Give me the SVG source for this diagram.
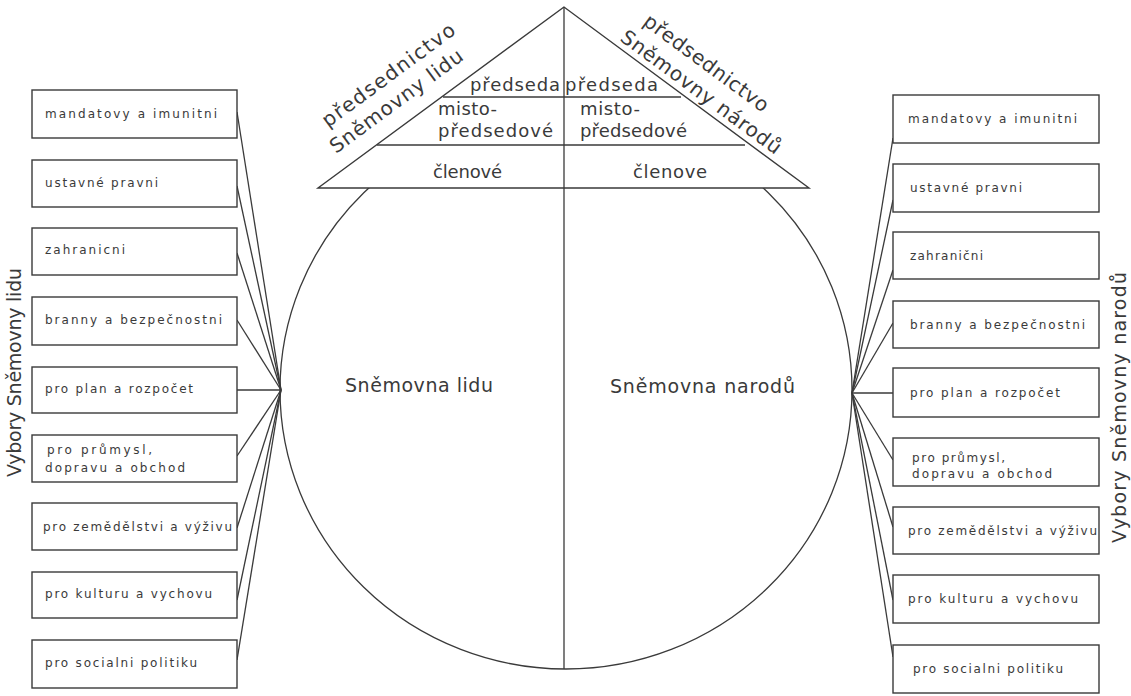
<svg xmlns="http://www.w3.org/2000/svg" width="1131" height="696" viewBox="0 0 1131 696">
<style>
.ln{stroke:#3a3a3a;stroke-width:1.3;fill:none}
.box{stroke:#3a3a3a;stroke-width:1.4;fill:#fff}
.t{font-family:"DejaVu Sans",sans-serif;fill:#3a3a3a}
.bt{font-size:12px}
.tri{font-size:18px}
.big{font-size:20px}
.mid{font-size:19px}
</style>
<rect width="1131" height="696" fill="#fff"/>
<g id="chamber">
<ellipse cx="566" cy="390" rx="286" ry="279" class="ln"/>
<text class="t mid" x="345" y="392" textLength="148" lengthAdjust="spacing">Sněmovna lidu</text>
<text class="t mid" x="610" y="393" textLength="185" lengthAdjust="spacing">Sněmovna narodů</text>
</g>
<g id="presidium">
<polygon points="564,7 318,188 809,188" class="box"/>
<line x1="443" y1="97" x2="681" y2="97" class="ln"/>
<line x1="377" y1="145" x2="745" y2="145" class="ln"/>
<text class="t tri" x="470" y="91" textLength="90" lengthAdjust="spacing">předseda</text>
<text class="t tri" x="565" y="91" textLength="93" lengthAdjust="spacing">předseda</text>
<text class="t tri" x="438" y="115" textLength="59" lengthAdjust="spacing">misto-</text>
<text class="t tri" x="438" y="137" textLength="115" lengthAdjust="spacing">předsedové</text>
<text class="t tri" x="580" y="115" textLength="60" lengthAdjust="spacing">misto-</text>
<text class="t tri" x="580" y="137" textLength="107" lengthAdjust="spacing">předsedové</text>
<text class="t tri" x="433" y="178" textLength="69" lengthAdjust="spacing">členové</text>
<text class="t tri" x="633" y="178" textLength="74" lengthAdjust="spacing">členove</text>
<text class="t big" transform="translate(328,128) rotate(-36.4)" textLength="160" lengthAdjust="spacing">předsednictvo</text>
<text class="t big" transform="translate(336,154) rotate(-36.4)" textLength="160" lengthAdjust="spacing">Sněmovny lidu</text>
<text class="t big" transform="translate(642,24) rotate(36.4)" textLength="150" lengthAdjust="spacing">předsednictvo</text>
<text class="t big" transform="translate(619,40) rotate(36.4)" textLength="194" lengthAdjust="spacing">Sněmovny národů</text>
</g>
<g id="connectors">
<line x1="564" y1="7" x2="564" y2="669" class="ln"/>
<line x1="237" y1="112" x2="281" y2="390" class="ln"/>
<line x1="237" y1="186" x2="281" y2="390" class="ln"/>
<line x1="237" y1="253" x2="281" y2="390" class="ln"/>
<line x1="237" y1="320" x2="281" y2="390" class="ln"/>
<line x1="237" y1="390" x2="281" y2="390" class="ln"/>
<line x1="237" y1="456" x2="281" y2="390" class="ln"/>
<line x1="237" y1="528" x2="281" y2="390" class="ln"/>
<line x1="237" y1="600" x2="281" y2="390" class="ln"/>
<line x1="237" y1="660" x2="281" y2="390" class="ln"/>
<line x1="893" y1="138" x2="852" y2="393" class="ln"/>
<line x1="893" y1="200" x2="852" y2="393" class="ln"/>
<line x1="893" y1="270" x2="852" y2="393" class="ln"/>
<line x1="893" y1="323" x2="852" y2="393" class="ln"/>
<line x1="893" y1="393" x2="852" y2="393" class="ln"/>
<line x1="893" y1="460" x2="852" y2="393" class="ln"/>
<line x1="893" y1="527" x2="852" y2="393" class="ln"/>
<line x1="893" y1="600" x2="852" y2="393" class="ln"/>
<line x1="893" y1="657" x2="852" y2="393" class="ln"/>
</g>
<g id="left-committees">
<g id="l1"><rect x="32" y="90" width="205" height="48" class="box"/><text class="t bt" x="45" y="118" textLength="172" lengthAdjust="spacing">mandatovy a imunitni</text></g>
<g id="l2"><rect x="32" y="160" width="205" height="47" class="box"/><text class="t bt" x="45" y="187" textLength="113" lengthAdjust="spacing">ustavné pravni</text></g>
<g id="l3"><rect x="32" y="228" width="205" height="47" class="box"/><text class="t bt" x="45" y="254" textLength="80" lengthAdjust="spacing">zahranicni</text></g>
<g id="l4"><rect x="32" y="297" width="205" height="48" class="box"/><text class="t bt" x="45" y="324" textLength="177" lengthAdjust="spacing">branny a bezpečnostni</text></g>
<g id="l5"><rect x="32" y="367" width="205" height="46" class="box"/><text class="t bt" x="45" y="393" textLength="148" lengthAdjust="spacing">pro plan a rozpočet</text></g>
<g id="l6"><rect x="32" y="435" width="205" height="47" class="box"/><text class="t bt" x="47" y="454" textLength="105" lengthAdjust="spacing">pro průmysl,</text><text class="t bt" x="45" y="472" textLength="140" lengthAdjust="spacing">dopravu a obchod</text></g>
<g id="l7"><rect x="32" y="503" width="205" height="47" class="box"/><text class="t bt" x="43" y="531" textLength="189" lengthAdjust="spacing">pro zemědělstvi a výživu</text></g>
<g id="l8"><rect x="32" y="572" width="205" height="46" class="box"/><text class="t bt" x="45" y="598" textLength="167" lengthAdjust="spacing">pro kulturu a vychovu</text></g>
<g id="l9"><rect x="32" y="640" width="205" height="48" class="box"/><text class="t bt" x="45" y="667" textLength="152" lengthAdjust="spacing">pro socialni politiku</text></g>
<text class="t mid" transform="translate(21,477) rotate(-90)" textLength="209" lengthAdjust="spacing">Vybory Sněmovny lidu</text>
</g>
<g id="right-committees">
<g id="r1"><rect x="893" y="95" width="206" height="48" class="box"/><text class="t bt" x="908" y="123" textLength="169" lengthAdjust="spacing">mandatovy a imunitni</text></g>
<g id="r2"><rect x="893" y="164" width="206" height="48" class="box"/><text class="t bt" x="910" y="192" textLength="112" lengthAdjust="spacing">ustavné pravni</text></g>
<g id="r3"><rect x="893" y="232" width="206" height="47" class="box"/><text class="t bt" x="910" y="260" textLength="73" lengthAdjust="spacing">zahranični</text></g>
<g id="r4"><rect x="893" y="301" width="206" height="47" class="box"/><text class="t bt" x="910" y="329" textLength="175" lengthAdjust="spacing">branny a bezpečnostni</text></g>
<g id="r5"><rect x="893" y="368" width="206" height="49" class="box"/><text class="t bt" x="910" y="397" textLength="150" lengthAdjust="spacing">pro plan a rozpočet</text></g>
<g id="r6"><rect x="893" y="438" width="206" height="48" class="box"/><text class="t bt" x="912" y="462" textLength="93" lengthAdjust="spacing">pro průmysl,</text><text class="t bt" x="912" y="478" textLength="140" lengthAdjust="spacing">dopravu a obchod</text></g>
<g id="r7"><rect x="893" y="507" width="206" height="47" class="box"/><text class="t bt" x="908" y="535" textLength="189" lengthAdjust="spacing">pro zemědělstvi a výživu</text></g>
<g id="r8"><rect x="893" y="575" width="206" height="48" class="box"/><text class="t bt" x="908" y="603" textLength="170" lengthAdjust="spacing">pro kulturu a vychovu</text></g>
<g id="r9"><rect x="893" y="645" width="206" height="48" class="box"/><text class="t bt" x="913" y="673" textLength="150" lengthAdjust="spacing">pro socialni politiku</text></g>
<text class="t mid" transform="translate(1126,543) rotate(-90)" textLength="271" lengthAdjust="spacing">Vybory Sněmovny narodů</text>
</g>
</svg>
